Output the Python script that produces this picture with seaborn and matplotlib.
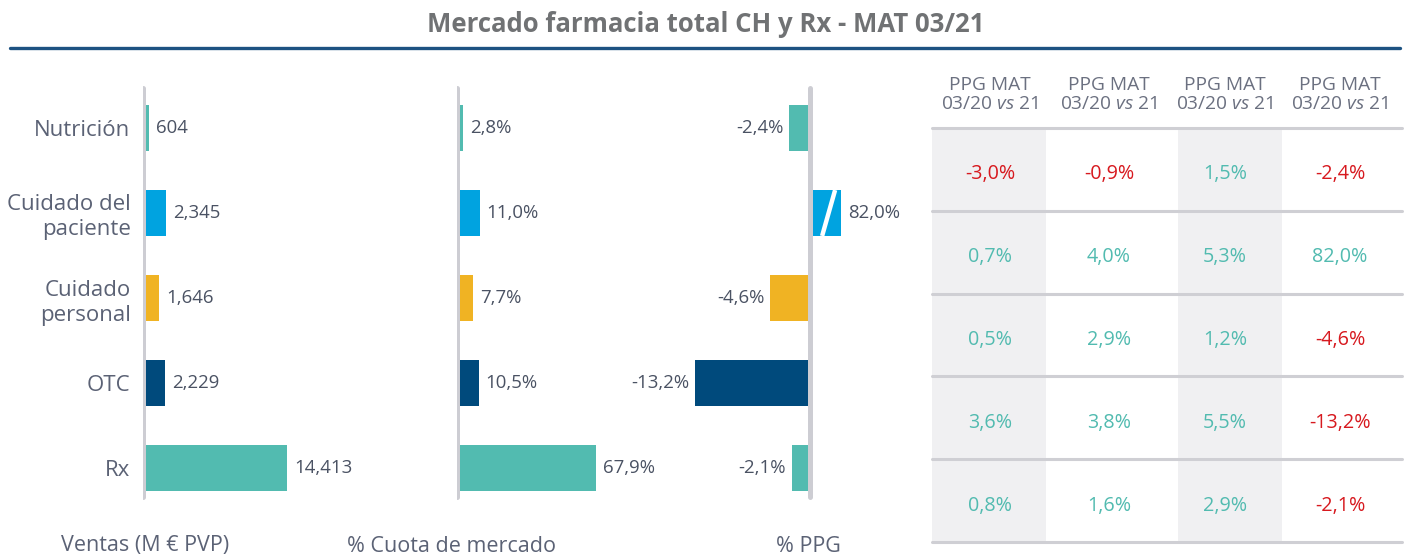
import numpy as np
import pandas as pd
import matplotlib
matplotlib.use("Agg")
import matplotlib.pyplot as plt
import seaborn as sns

# === Data ===
categories = ["Nutrición", "Cuidado del\npaciente", "Cuidado\npersonal", "OTC", "Rx"]
ventas = [604, 2345, 1646, 2229, 14413]
cuota = [2.8, 11.0, 7.7, 10.5, 67.9]
ppg = [-2.4, 82.0, -4.6, -13.2, -2.1]

table_header = ["PPG MAT", "PPG MAT", "PPG MAT", "PPG MAT"]
table_sub = ["03/20 $\\it{vs}$ 21"] * 4
table_values = [
    [-3.0, -0.9, 1.5, -2.4],
    [0.7, 4.0, 5.3, 82.0],
    [0.5, 2.9, 1.2, -4.6],
    [3.6, 3.8, 5.5, -13.2],
    [0.8, 1.6, 2.9, -2.1],
]

bar_colors = ["#52bbb0", "#00a3e0", "#f0b323", "#004a7c", "#52bbb0"]
TEXT = "#4a5263"
LABEL = "#5b6275"
AXIS_GREY = "#cdcdd3"
RED = "#d7191f"
TEAL = "#52bbb0"

sns.set_theme(style="white")
plt.rcParams["font.family"] = ["Open Sans", "DejaVu Sans"]
plt.rcParams["mathtext.fontset"] = "custom"
plt.rcParams["mathtext.rm"] = "Open Sans"
plt.rcParams["mathtext.it"] = "Open Sans:italic"

W, H = 1407, 558
fig = plt.figure(figsize=(W / 100, H / 100), dpi=100)


def px_axes(left, top, right, bottom):
    return fig.add_axes([left / W, 1 - bottom / H, (right - left) / W, (bottom - top) / H])


def fmt_ventas(v):
    return f"{v:,}"


def fmt_pct(v):
    return f"{v:.1f}%".replace(".", ",")


# === Title ===
fig.text(706 / W, 1 - 24 / H, "Mercado farmacia total CH y Rx - MAT 03/21",
         ha="center", va="center", fontsize=18.5, fontweight="bold", color="#707274")
fig.add_artist(plt.Line2D([10 / W, 1400 / W], [1 - 48 / H, 1 - 48 / H],
                          color="#1d5282", lw=2.4, transform=fig.transFigure))

df = pd.DataFrame({"cat": categories, "ventas": ventas, "cuota": cuota, "ppg": ppg})

panels = [
    ("ventas", (143, 343), (0, 20000), fmt_ventas, True),
    ("cuota", (457, 657), (0, 97.6), fmt_pct, False),
    ("ppg", (690, 841), (-13.8, 3.56), fmt_pct, False),
]

for col, (left, right), xlim, fmt, show_cats in panels:
    ax = px_axes(left, 85.5, right, 510.5)
    sns.barplot(data=df, x=col, y="cat", hue="cat", palette=bar_colors, orient="h",
                width=0.54, linewidth=0, saturation=1, legend=False, ax=ax)
    ax.set_xlim(*xlim)
    ax.set_ylim(4.5, -0.5)
    ax.set_xlabel("")
    ax.set_ylabel("")
    ax.set_xticks([])
    for s in ax.spines.values():
        s.set_visible(False)
    ax.patch.set_alpha(0)
    ax.axvline(0, ymin=0.032, ymax=0.995, color=AXIS_GREY, lw=3.6,
               solid_capstyle="round", zorder=5)
    if show_cats:
        ax.tick_params(axis="y", length=0, pad=9, labelsize=16, labelcolor=LABEL)
        for t in ax.get_yticklabels():
            t.set_linespacing(1.25)
    else:
        ax.set_yticks([])
    vals = df[col].tolist()
    for i, v in enumerate(vals):
        xv = min(v, xlim[1])
        if v >= 0:
            ax.annotate(fmt(v), (xv, i), xytext=(5, 0), textcoords="offset points",
                        ha="left", va="center", fontsize=13.4, color=TEXT, annotation_clip=False)
        else:
            ax.annotate(fmt(v), (xv, i), xytext=(-4, 0), textcoords="offset points",
                        ha="right", va="center", fontsize=13.4, color=TEXT, annotation_clip=False)
        if v > xlim[1]:
            # break mark on the truncated bar
            span = xlim[1]
            ax.plot([0.39 * span, 0.81 * span], [i + 0.27, i - 0.27], color="white",
                    lw=3.2, zorder=4, solid_capstyle="butt")

# === Bottom labels ===
for x, txt in [(145, "Ventas (M € PVP)"), (452, "% Cuota de mercado"), (808, "% PPG")]:
    fig.text(x / W, 1 - 546 / H, txt, ha="center", va="center", fontsize=15.5, color=LABEL)

# === Table ===
col_edges = [932, 1046, 1178, 1282, 1402]
row_edges = np.linspace(128, 542, 6)
tax = px_axes(0, 0, W, H)
tax.set_xlim(0, W)
tax.set_ylim(H, 0)
tax.axis("off")
for c in (0, 2):
    tax.add_patch(plt.Rectangle((col_edges[c], row_edges[0]), col_edges[c + 1] - col_edges[c],
                                row_edges[-1] - row_edges[0], color="#f0f0f2", lw=0, zorder=1))
for y in row_edges:
    tax.plot([col_edges[0], col_edges[-1]], [y, y], color="#cfcfd4", lw=2.2, zorder=2)
header_x = [990, 1109, 1225, 1340]
for c, hx in enumerate(header_x):
    tax.text(hx, 85, table_header[c], ha="center", va="center", fontsize=13.8, color="#6b7080")
    tax.text(hx, 104, table_sub[c], ha="center", va="center", fontsize=13.8, color="#6b7080")
for r, row in enumerate(table_values):
    yc = (row_edges[r] + row_edges[r + 1]) / 2 + 5
    for c, v in enumerate(row):
        tax.text(header_x[c], yc, fmt_pct(v), ha="center", va="center", fontsize=14.2,
                 color=RED if v < 0 else TEAL, zorder=3)

fig.savefig("out.png", dpi=100)
